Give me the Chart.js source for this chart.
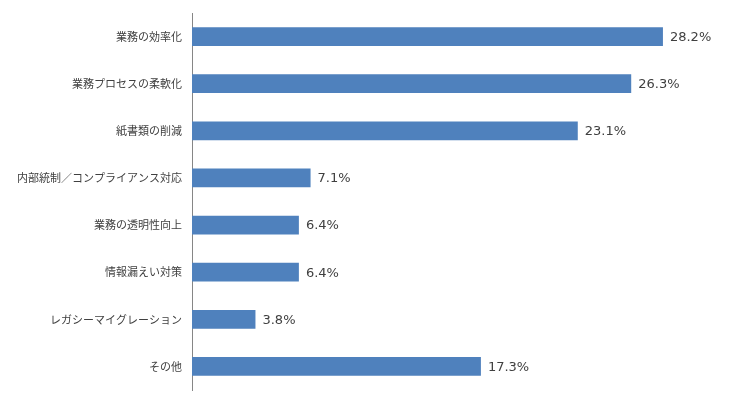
<!DOCTYPE html>
<html>
<head>
<meta charset="utf-8">
<script src="https://cdn.jsdelivr.net/npm/chart.js@4/dist/chart.umd.min.js"></script>
<style>
  html, body { margin: 0; padding: 0; background: #fff; }
  #wrap { width: 731px; height: 402px; }
</style>
</head>
<body>
<div id="wrap"><canvas id="chart"></canvas></div>
<script>
const categories = [
    '業務の効率化',
    '業務プロセスの柔軟化',
    '紙書類の削減',
    '内部統制／コンプライアンス対応',
    '業務の透明性向上',
    '情報漏えい対策',
    'レガシーマイグレーション',
    'その他'
];
const shares = [28.2, 26.3, 23.1, 7.1, 6.4, 6.4, 3.8, 17.3];

// draws "xx.x%" just past the end of each bar
const valueLabels = {
    id: 'valueLabels',
    afterDatasetsDraw(chart) {
        const ctx = chart.ctx;
        const meta = chart.getDatasetMeta(0);
        ctx.save();
        ctx.font = '13px "DejaVu Sans", sans-serif';
        ctx.fillStyle = '#404040';
        ctx.textAlign = 'left';
        ctx.textBaseline = 'middle';
        meta.data.forEach((bar, i) => {
            ctx.fillText(shares[i].toFixed(1) + '%', bar.x + 7, bar.y + 1);
        });
        ctx.restore();
    }
};

const ctx = document.getElementById('chart').getContext('2d');
new Chart(ctx, {
    type: 'bar',
    data: {
        labels: categories,
        datasets: [{
            data: shares,
            backgroundColor: '#4F81BD',
            borderWidth: 0,
            barPercentage: 0.4,
            categoryPercentage: 1.0
        }]
    },
    plugins: [valueLabels],
    options: {
        indexAxis: 'y',
        responsive: true,
        maintainAspectRatio: false,
        animation: false,
        layout: {
            padding: { left: 0, right: 38, top: 13, bottom: 12 }
        },
        plugins: {
            legend: { display: false },
            tooltip: { enabled: false }
        },
        scales: {
            x: {
                display: false,
                min: 0,
                max: 30
            },
            y: {
                grid: { display: false },
                border: { display: true, color: '#868686', width: 1 },
                ticks: {
                    color: '#404040',
                    padding: 2,
                    font: { family: '"Noto Sans CJK JP", sans-serif', size: 11 }
                },
                afterFit: function(scale) {
                    scale.width = 192;
                    scale.paddingTop = 0;
                    scale.paddingBottom = 0;
                }
            }
        }
    }
});
</script>
</body>
</html>
